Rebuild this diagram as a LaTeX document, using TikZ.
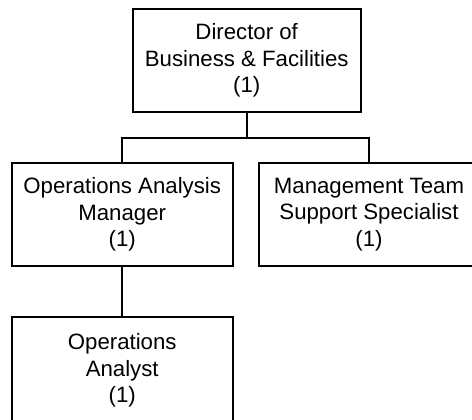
\documentclass[tikz,border=0pt]{standalone}
\usepackage{fontspec}
\setmainfont{Liberation Sans}
\begin{document}
\begin{tikzpicture}[x=1bp,y=-1bp,
  box/.style={draw, line width=2bp, align=center, inner sep=0pt,
    font=\fontsize{22.3}{26.7}\selectfont, minimum height=102.5bp},
  link/.style={line width=2bp}]
\useasboundingbox (0,0) rectangle (472,419);
\clip (0,0) rectangle (472,419);
\node[box, minimum width=228bp] (dir) at (246.7,60.5) {Director of\\Business \& Facilities\\(1)};
\node[box, minimum width=221bp] (oam) at (122.2,214.5) {Operations Analysis\\Manager\\(1)};
\node[box, minimum width=220bp] (mts) at (369,214.5) {Management Team\\Support Specialist\\(1)};
\node[box, minimum width=221bp, minimum height=106bp] (oa) at (122.2,370.3) {Operations\\Analyst\\(1)};
\coordinate (jr) at (369,137.5);
\draw[link] (dir.south) -- (dir.south |- jr);
\draw[link] (oam.north) |- (jr) -- (mts.north);
\draw[link] (oam.south) -- (oa.north);
\end{tikzpicture}
\end{document}
